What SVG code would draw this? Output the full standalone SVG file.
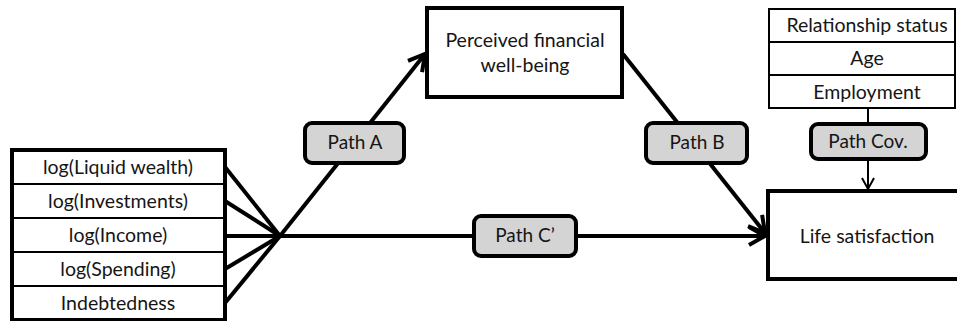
<svg xmlns="http://www.w3.org/2000/svg" width="957" height="321" viewBox="0 0 957 321">
<style>
text{font-family:Lato,"Open Sans","Liberation Sans",sans-serif;fill:#151515;text-anchor:middle}
.t{font-size:19.5px}
.lbl{font-size:19px}
.box{fill:#fff;stroke:#000;stroke-width:4}
.thin{fill:none;stroke:#000;stroke-width:2}
.pill{fill:#d4d4d4;stroke:#000;stroke-width:4}
.ln{stroke:#000;stroke-width:4;fill:none}
</style>
<defs>
<marker id="ah" markerUnits="userSpaceOnUse" markerWidth="30" markerHeight="30" refX="20" refY="15" orient="auto">
<path d="M4,6 L20,15 L4,24" fill="none" stroke="#000" stroke-width="4"/>
</marker>
<marker id="ahs" markerUnits="userSpaceOnUse" markerWidth="20" markerHeight="20" refX="14" refY="10" orient="auto">
<path d="M3,4 L14,10 L3,16" fill="none" stroke="#000" stroke-width="2"/>
</marker>
</defs>
<rect width="957" height="321" fill="#fff"/>
<g id="connectors">
<line class="ln" x1="225" y1="167" x2="280" y2="236"/>
<line class="ln" x1="225" y1="201" x2="280" y2="236"/>
<line class="ln" x1="225" y1="236" x2="280" y2="236"/>
<line class="ln" x1="225" y1="269" x2="280" y2="236"/>
<line class="ln" x1="225" y1="303" x2="280" y2="236"/>
<line class="ln" x1="280" y1="236" x2="425" y2="54" marker-end="url(#ah)"/>
<line class="ln" x1="623" y1="54" x2="765" y2="233" marker-end="url(#ah)"/>
<line class="ln" x1="280" y1="236" x2="765" y2="236" stroke-width="3.5" marker-end="url(#ah)"/>
<line x1="868" y1="108" x2="868" y2="189" stroke="#000" stroke-width="2" marker-end="url(#ahs)"/>
</g>
<g id="predictors">
<rect class="box" x="12" y="150" width="213" height="170"/>
<line class="thin" x1="12" y1="184" x2="225" y2="184"/>
<line class="thin" x1="12" y1="218" x2="225" y2="218"/>
<line class="thin" x1="12" y1="252" x2="225" y2="252"/>
<line class="thin" x1="12" y1="286" x2="225" y2="286"/>
<text class="t" x="118" y="174">log(Liquid wealth)</text>
<text class="t" x="118" y="208">log(Investments)</text>
<text class="t" x="118" y="242">log(Income)</text>
<text class="t" x="118" y="276">log(Spending)</text>
<text class="t" x="118" y="310">Indebtedness</text>
</g>
<g id="pfw">
<rect class="box" x="427" y="8" width="195" height="89"/>
<text class="t" x="525" y="47">Perceived financial</text>
<text class="t" x="525" y="72">well-being</text>
</g>
<g id="covariates">
<rect class="thin" x="769" y="9" width="186" height="99" fill="#fff"/>
<line class="thin" x1="769" y1="42" x2="955" y2="42"/>
<line class="thin" x1="769" y1="75" x2="955" y2="75"/>
<text class="t" x="867" y="32">Relationship status</text>
<text class="t" x="867" y="65">Age</text>
<text class="t" x="867" y="99">Employment</text>
</g>
<g id="life">
<rect class="box" x="768" y="191" width="200" height="88"/>
<text class="t" x="867" y="243">Life satisfaction</text>
</g>
<g id="pathA">
<rect class="pill" x="305" y="123" width="99" height="40" rx="7"/>
<text class="lbl" x="355" y="149">Path A</text>
</g>
<g id="pathB">
<rect class="pill" x="646" y="123" width="101" height="40" rx="7"/>
<text class="lbl" x="697" y="149">Path B</text>
</g>
<g id="pathC">
<rect class="pill" x="474" y="216" width="102" height="40" rx="7"/>
<text class="lbl" x="525" y="242">Path C’</text>
</g>
<g id="pathCov">
<rect class="pill" x="811" y="124" width="115" height="35" rx="7" stroke-width="2.5"/>
<text class="lbl" x="868" y="148">Path Cov.</text>
</g>
</svg>
